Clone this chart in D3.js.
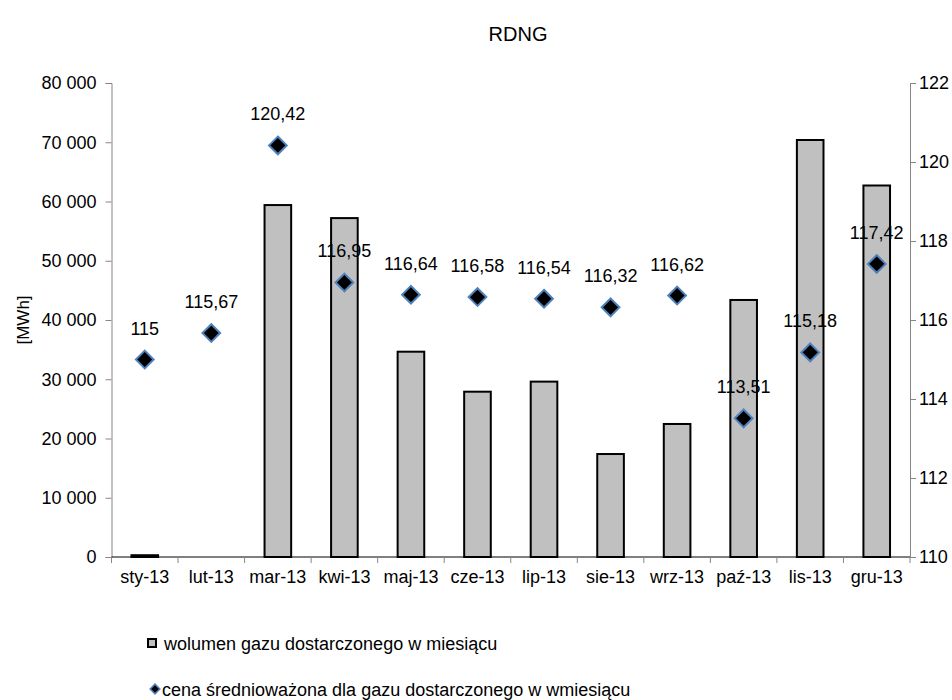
<!DOCTYPE html>
<html><head><meta charset="utf-8">
<script src="https://cdn.jsdelivr.net/npm/d3@7"></script>
<style>
body{margin:0;background:#fff;}
text{font-family:Arial,"Liberation Sans",sans-serif;fill:#000;}
</style></head>
<body>
<svg id="c" width="952" height="700"></svg>
<script>
const categories = ["sty-13","lut-13","mar-13","kwi-13","maj-13","cze-13","lip-13","sie-13","wrz-13","paź-13","lis-13","gru-13"];
const volume = [300, 0, 59400, 57200, 34650, 27900, 29600, 17380, 22450, 43380, 70380, 62700];
const price = [115, 115.67, 120.42, 116.95, 116.64, 116.58, 116.54, 116.32, 116.62, 113.51, 115.18, 117.42];
const leftTicks = [0,10000,20000,30000,40000,50000,60000,70000,80000];
const rightTicks = [110,112,114,116,118,120,122];
const title = "RDNG";
const yLabel = "[MWh]";
const legendLabels = ["wolumen gazu dostarczonego w miesiącu","cena średnioważona dla gazu dostarczonego w wmiesiącu"];

const svg = d3.select("#c");
const L = 111.5, R = 910, T = 83, B = 557;
const fs = 18;
const FF = "Arial,'Liberation Sans',sans-serif";
const x = d3.scaleBand().domain(categories).range([L, R]).paddingInner(0).paddingOuter(0);
const yL = d3.scaleLinear().domain([0, 80000]).range([B, T]);
const yR = d3.scaleLinear().domain([110, 122]).range([B, T]);
const fmt = v => d3.format(",")(v).replace(/,/g, " ");
const fmtP = v => String(v).replace(".", ",");

// bars
svg.append("g").selectAll("rect").data(volume).join("rect")
  .attr("x", (d,i) => x(categories[i]) + x.bandwidth()*0.3)
  .attr("width", x.bandwidth()*0.4)
  .attr("y", d => yL(d))
  .attr("height", d => B - yL(d))
  .attr("fill", "#c0c0c0")
  .attr("stroke", d => d > 0 ? "#000" : "none")
  .attr("stroke-width", 2);

// left axis
const gl = svg.append("g").attr("transform", `translate(${L},0)`)
  .call(d3.axisLeft(yL).tickValues(leftTicks).tickFormat(fmt).tickSize(6).tickPadding(9));
gl.selectAll("path,line").attr("stroke", "#868686");
gl.selectAll("text").attr("font-size", fs).attr("font-family", FF).attr("fill","#000");

// right axis
const gr = svg.append("g").attr("transform", `translate(${R},0)`)
  .call(d3.axisRight(yR).tickValues(rightTicks).tickFormat(d => d).tickSize(6).tickPadding(3));
gr.selectAll("path,line").attr("stroke", "#868686");
gr.selectAll("text").attr("font-size", fs).attr("font-family", FF).attr("fill","#000");

// x axis
const gx = svg.append("g").attr("transform", `translate(0,${B})`)
  .call(d3.axisBottom(x).tickSize(0).tickPadding(13));
gx.select("path").attr("stroke", "#000").attr("d", `M${L},0H${R}`);
gx.selectAll("text").attr("font-size", fs).attr("font-family", FF).attr("fill","#000");
const edges = categories.map(c => x(c)).concat([R]);
svg.append("g").selectAll("line").data(edges).join("line")
  .attr("x1", d => d).attr("x2", d => d).attr("y1", B).attr("y2", B + 6)
  .attr("stroke", "#868686");

// diamonds
const sym = d3.symbol().type(d3.symbolDiamond2).size(200);
svg.append("g").selectAll("path").data(price).join("path")
  .attr("d", sym)
  .attr("transform", (d,i) => `translate(${x(categories[i]) + x.bandwidth()/2},${yR(d)})`)
  .attr("fill", "#000").attr("stroke", "#4f81bd").attr("stroke-width", 2);

// labels
svg.append("g").selectAll("text").data(price).join("text")
  .attr("x", (d,i) => x(categories[i]) + x.bandwidth()/2)
  .attr("y", d => yR(d) - 25)
  .attr("text-anchor", "middle").attr("font-size", fs)
  .text(fmtP);

// title
svg.append("text").attr("x", 518).attr("y", 41).attr("text-anchor","middle").attr("font-size", 20).text(title);

// y label
svg.append("text").attr("transform", "translate(29,320) rotate(-90)").attr("text-anchor","middle").attr("font-size", 17).text(yLabel);

// legend
svg.append("rect").attr("x", 148).attr("y", 639).attr("width", 8).attr("height", 8)
  .attr("fill", "#c0c0c0").attr("stroke", "#000").attr("stroke-width", 2);
svg.append("text").attr("x", 164).attr("y", 650).attr("font-size", fs).text(legendLabels[0]);
svg.append("path").attr("d", d3.symbol().type(d3.symbolDiamond2).size(60))
  .attr("transform", "translate(155,689)").attr("fill","#000").attr("stroke","#4f81bd").attr("stroke-width",1.5);
svg.append("text").attr("x", 162).attr("y", 696).attr("font-size", fs).text(legendLabels[1]);
</script>
</body></html>
